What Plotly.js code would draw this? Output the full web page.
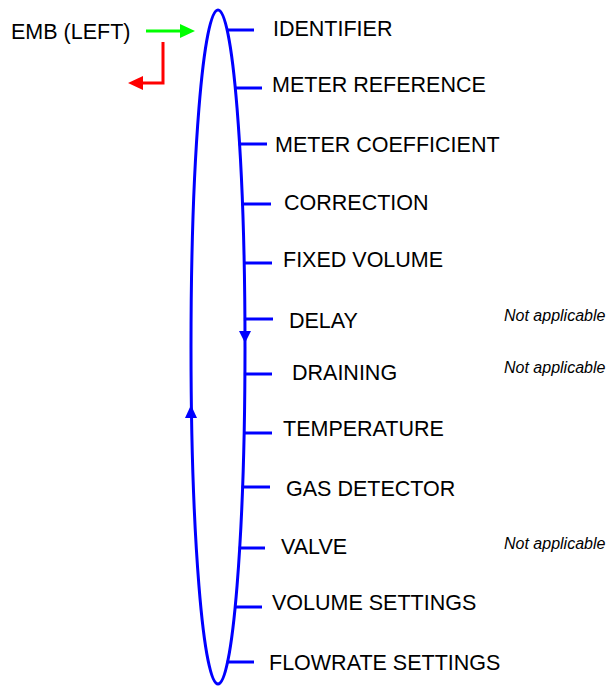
<!DOCTYPE html>
<html><head><meta charset="utf-8">
<script src="https://cdn.plot.ly/plotly-3.0.1.min.js"></script>
<style>html,body{margin:0;padding:0;background:#fff}#c{width:609px;height:686px}</style>
</head><body><div id="c"></div>
<script>
// ---- data ----
const items = ["IDENTIFIER","METER REFERENCE","METER COEFFICIENT","CORRECTION","FIXED VOLUME","DELAY","DRAINING","TEMPERATURE","GAS DETECTOR","VALVE","VOLUME SETTINGS","FLOWRATE SETTINGS"];
const notes = ["","","","","","Not applicable","Not applicable","","","Not applicable","",""];
const sourceLabel = "EMB (LEFT)";

// ---- layout geometry (pixel space) ----
const tickY    = [30, 88, 144, 204, 263, 319, 374, 433, 487, 548, 607, 662];
const tickEnd  = [254, 262, 267, 271, 272, 273, 272, 272, 270, 265, 262, 254];
const labelX   = [274, 273, 276, 285, 284, 290, 293, 284, 287, 282, 273, 270];
const labelY   = [29, 85, 145, 203, 260, 321, 373, 429, 489, 547, 603, 663];
const noteY    = [0,0,0,0,0,315,367,0,0,543,0,0];
const E = {cx: 218, cy: 347, rx: 27, ry: 337};
const BLUE = "#0000ff";
const FONT = "Liberation Sans, Arial, sans-serif";

const tx = [], ty = [];
tickY.forEach((y, i) => {
  const dy = (y - E.cy) / E.ry;
  const xs = E.cx + E.rx * Math.sqrt(Math.max(0, 1 - dy*dy));
  tx.push(xs - 1, tickEnd[i], null); ty.push(y, y, null);
});

const traces = [{
  x: tx, y: ty, mode: "lines", type: "scatter",
  line: {color: BLUE, width: 3}, hoverinfo: "skip", showlegend: false
}];

const shapes = [
  {type: "circle", xref: "x", yref: "y", x0: E.cx - E.rx, x1: E.cx + E.rx, y0: E.cy - E.ry, y1: E.cy + E.ry,
   line: {color: BLUE, width: 3}},
  {type: "path", path: `M ${E.cx+E.rx-6},331 L ${E.cx+E.rx+6},331 L ${E.cx+E.rx},343 Z`, fillcolor: BLUE, line: {width: 0}},
  {type: "path", path: `M ${E.cx-E.rx-6},418 L ${E.cx-E.rx+6},418 L ${E.cx-E.rx},405 Z`, fillcolor: BLUE, line: {width: 0}},
  {type: "line", x0: 146, x1: 181, y0: 31, y1: 31, line: {color: "#00ff00", width: 3}},
  {type: "path", path: "M 180,24 L 195,31 L 180,38 Z", fillcolor: "#00ff00", line: {width: 0}},
  {type: "path", path: "M 163,42 L 163,83 L 141,83", line: {color: "#ff0000", width: 3}},
  {type: "path", path: "M 143,76 L 128,83 L 143,90 Z", fillcolor: "#ff0000", line: {width: 0}}
];

const annotations = [];
items.forEach((t, i) => {
  annotations.push({x: labelX[i], y: labelY[i], xshift: -3, text: t, showarrow: false, xanchor: "left", yanchor: "middle",
    font: {family: FONT, size: 21.5, color: "#000"}});
  if (notes[i]) annotations.push({x: 608, y: noteY[i], text: "<i>" + notes[i] + "</i>", showarrow: false,
    xanchor: "right", yanchor: "middle", font: {family: FONT, size: 16, color: "#000"}});
});
annotations.push({x: 12, y: 32, xshift: -3, text: sourceLabel, showarrow: false, xanchor: "left", yanchor: "middle",
  font: {family: FONT, size: 21.5, color: "#000"}});

const layout = {
  width: 609, height: 686, margin: {l: 0, r: 0, t: 0, b: 0},
  paper_bgcolor: "#fff", plot_bgcolor: "#fff",
  xaxis: {range: [0, 609], visible: false, fixedrange: true},
  yaxis: {range: [686, 0], visible: false, fixedrange: true},
  shapes, annotations, showlegend: false
};
Plotly.newPlot("c", traces, layout, {staticPlot: true, displayModeBar: false});
</script></body></html>
